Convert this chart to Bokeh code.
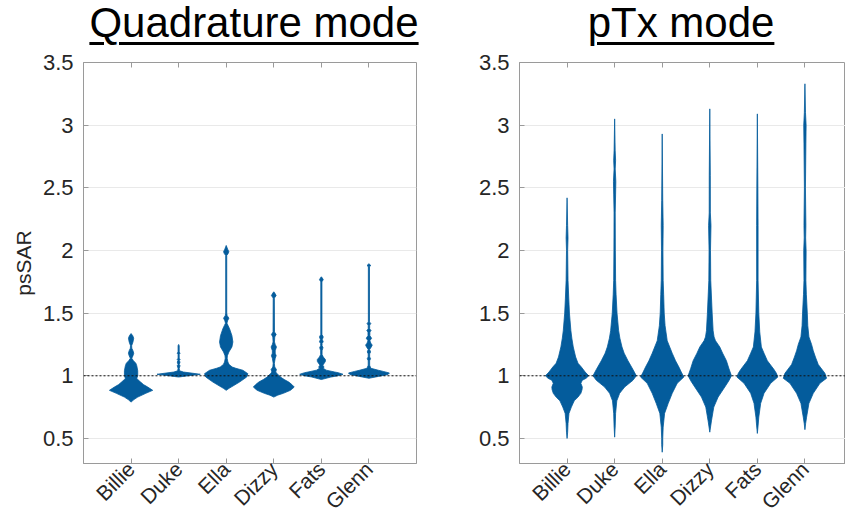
import math
from bokeh.plotting import figure
from bokeh.models import (ColumnDataSource, FixedTicker, LinearAxis, Span, Div,
                          NumeralTickFormatter)
from bokeh.layouts import row, column
from bokeh.embed import file_html
from bokeh.resources import INLINE

# ---------------- data ----------------
names = ["Billie", "Duke", "Ella", "Dizzy", "Fats", "Glenn"]
titles = ["Quadrature mode", "pTx mode"]
y_ticks = [0.5, 1, 1.5, 2, 2.5, 3, 3.5]
y_label = "psSAR"
reference_level = 1.0

# violin outlines: (psSAR value, half width in category units)
quad_billie = [(0.79, 0), (0.81, 0.06), (0.83, 0.14), (0.86, 0.31), (0.884, 0.455), (0.91, 0.35),
               (0.93, 0.26), (0.95, 0.2), (0.97, 0.14), (0.98, 0.12), (1.0, 0.14), (1.04, 0.14),
               (1.08, 0.12), (1.10, 0.10), (1.12, 0.05), (1.14, 0.015), (1.16, 0.04), (1.18, 0.056),
               (1.20, 0.04), (1.22, 0.015), (1.24, 0.012), (1.27, 0.04), (1.30, 0.055), (1.32, 0.035),
               (1.337, 0)]
quad_duke = [(0.99, 0), (1.0, 0.2), (1.012, 0.455), (1.02, 0.3), (1.03, 0.1), (1.04, 0.02),
             (1.06, 0.012), (1.08, 0.03), (1.09, 0.012), (1.11, 0.03), (1.12, 0.012), (1.13, 0.03),
             (1.14, 0.012), (1.17, 0.012), (1.18, 0.03), (1.19, 0.012), (1.24, 0.012), (1.25, 0)]
quad_ella = [(0.884, 0), (0.90, 0.06), (0.91, 0.105), (0.95, 0.28), (0.99, 0.43), (1.017, 0.455),
             (1.044, 0.35), (1.06, 0.2), (1.07, 0.126), (1.09, 0.06), (1.11, 0.035), (1.14, 0.02),
             (1.16, 0.025), (1.19, 0.056), (1.23, 0.12), (1.27, 0.14), (1.32, 0.12), (1.376, 0.07),
             (1.40, 0.04), (1.42, 0.015), (1.44, 0.03), (1.46, 0.056), (1.48, 0.02), (1.50, 0.01),
             (1.96, 0.01), (1.975, 0.04), (1.99, 0.056), (2.01, 0.03), (2.04, 0)]
quad_dizzy = [(0.83, 0), (0.845, 0.08), (0.86, 0.2), (0.884, 0.35), (0.91, 0.43), (0.93, 0.38),
              (0.95, 0.315), (0.97, 0.22), (0.99, 0.14), (1.017, 0.07), (1.03, 0.04), (1.05, 0.056),
              (1.07, 0.02), (1.10, 0.012), (1.14, 0.03), (1.16, 0.05), (1.18, 0.03), (1.20, 0.03),
              (1.23, 0.056), (1.25, 0.03), (1.27, 0.015), (1.31, 0.02), (1.33, 0.05), (1.35, 0.015),
              (1.62, 0.012), (1.64, 0.05), (1.66, 0.02), (1.67, 0)]
quad_fats = [(0.97, 0), (0.99, 0.2), (1.0, 0.35), (1.012, 0.455), (1.025, 0.35), (1.03, 0.28),
             (1.045, 0.1), (1.06, 0.04), (1.07, 0.056), (1.085, 0.03), (1.10, 0.06), (1.115, 0.085),
             (1.13, 0.085), (1.15, 0.04), (1.17, 0.015), (1.20, 0.015), (1.225, 0.035), (1.24, 0.015),
             (1.26, 0.015), (1.27, 0.04), (1.29, 0.02), (1.31, 0.04), (1.33, 0.012), (1.75, 0.012),
             (1.767, 0.04), (1.78, 0.02), (1.79, 0)]
quad_glenn = [(0.98, 0), (0.995, 0.2), (1.01, 0.40), (1.022, 0.43), (1.035, 0.3), (1.044, 0.2),
              (1.06, 0.04), (1.084, 0.015), (1.12, 0.015), (1.137, 0.035), (1.15, 0.015), (1.175, 0.015),
              (1.19, 0.035), (1.21, 0.015), (1.23, 0.05), (1.245, 0.07), (1.26, 0.04), (1.28, 0.02),
              (1.30, 0.056), (1.32, 0.02), (1.35, 0.02), (1.36, 0.045), (1.375, 0.015), (1.405, 0.015),
              (1.416, 0.04), (1.43, 0.012), (1.87, 0.012), (1.88, 0.04), (1.895, 0)]

ptx_billie = [(0.50, 0), (0.55, 0.012), (0.62, 0.02), (0.70, 0.04), (0.75, 0.09), (0.80, 0.15),
              (0.83, 0.23), (0.86, 0.29), (0.89, 0.315), (0.91, 0.32), (0.94, 0.29), (0.964, 0.32),
              (0.98, 0.40), (1.0, 0.455), (1.03, 0.38), (1.07, 0.30), (1.10, 0.23), (1.15, 0.18),
              (1.23, 0.13), (1.30, 0.10), (1.36, 0.08), (1.50, 0.05), (1.62, 0.035), (1.76, 0.02),
              (2.0, 0.012), (2.1, 0.02), (2.2, 0.012), (2.42, 0)]
ptx_duke = [(0.51, 0), (0.6, 0.012), (0.70, 0.02), (0.80, 0.045), (0.86, 0.105), (0.91, 0.21),
            (0.964, 0.385), (1.0, 0.455), (1.05, 0.385), (1.12, 0.28), (1.18, 0.2), (1.23, 0.154),
            (1.30, 0.11), (1.36, 0.084), (1.50, 0.05), (1.65, 0.03), (1.76, 0.02), (2.0, 0.015),
            (2.3, 0.012), (2.45, 0.02), (2.55, 0.025), (2.65, 0.012), (2.72, 0.02), (2.8, 0.01),
            (3.05, 0)]
ptx_ella = [(0.39, 0), (0.45, 0.01), (0.50, 0.01), (0.59, 0.02), (0.70, 0.05), (0.78, 0.126),
            (0.86, 0.21), (0.94, 0.315), (0.99, 0.455), (1.03, 0.40), (1.07, 0.35), (1.12, 0.28),
            (1.18, 0.21), (1.28, 0.105), (1.40, 0.06), (1.50, 0.042), (1.65, 0.03), (1.76, 0.02),
            (2.0, 0.015), (2.2, 0.02), (2.4, 0.01), (2.93, 0)]
ptx_dizzy = [(0.55, 0), (0.64, 0.035), (0.75, 0.084), (0.83, 0.175), (0.91, 0.315), (0.96, 0.40),
             (1.0, 0.455), (1.06, 0.40), (1.12, 0.35), (1.18, 0.27), (1.23, 0.21), (1.28, 0.12),
             (1.31, 0.09), (1.36, 0.07), (1.50, 0.05), (1.76, 0.02), (2.0, 0.015), (2.2, 0.025),
             (2.3, 0.012), (2.6, 0.01), (3.13, 0)]
ptx_fats = [(0.54, 0), (0.60, 0.015), (0.67, 0.03), (0.78, 0.07), (0.86, 0.14), (0.94, 0.28),
            (0.99, 0.43), (1.02, 0.40), (1.05, 0.35), (1.12, 0.21), (1.18, 0.14), (1.23, 0.084),
            (1.35, 0.05), (1.50, 0.03), (1.76, 0.015), (2.2, 0.015), (2.5, 0.01), (3.09, 0)]
ptx_glenn = [(0.57, 0), (0.62, 0.015), (0.67, 0.035), (0.78, 0.084), (0.86, 0.175), (0.94, 0.315),
             (0.98, 0.455), (1.02, 0.42), (1.09, 0.28), (1.15, 0.22), (1.20, 0.175), (1.25, 0.14),
             (1.31, 0.084), (1.40, 0.06), (1.50, 0.05), (1.65, 0.03), (1.76, 0.02), (2.0, 0.025),
             (2.1, 0.015), (2.2, 0.02), (2.5, 0.01), (2.85, 0.02), (3.0, 0.025), (3.1, 0.012),
             (3.33, 0)]

quad_violins = [quad_billie, quad_duke, quad_ella, quad_dizzy, quad_fats, quad_glenn]
ptx_violins = [ptx_billie, ptx_duke, ptx_ella, ptx_dizzy, ptx_fats, ptx_glenn]

# ---------------- styling ----------------
BLUE = "#045c9c"
FONT = "Liberation Sans"
AXIS_GRAY = "#9a9a9a"
LABEL_COLOR = "#262626"
MIN_HALF = 0.011


def violin_source(violins):
    xs, ys = [], []
    for i, prof in enumerate(violins):
        pos = i + 1
        vals = [v for v, _ in prof]
        hws = [max(w, MIN_HALF) if 0 < k < len(prof) - 1 else w for k, (_, w) in enumerate(prof)]
        right_x = [pos + w for w in hws]
        left_x = [pos - w for w in hws][::-1]
        xs.append(right_x + left_x)
        ys.append(vals + vals[::-1])
    return ColumnDataSource(dict(xs=xs, ys=ys))


def make_panel(violins, x_end, width, border_left, border_right, show_ylabel):
    p = figure(width=width, height=478, x_range=(0, x_end), y_range=(0.3, 3.5),
               output_backend="svg", toolbar_location=None,
               min_border_left=border_left, min_border_right=border_right,
               min_border_top=12, min_border_bottom=65)
    p.background_fill_color = "white"
    p.border_fill_color = "white"
    p.outline_line_color = AXIS_GRAY
    p.outline_line_width = 1

    p.patches("xs", "ys", source=violin_source(violins), fill_color=BLUE,
              line_color=BLUE, line_width=0.8)

    p.add_layout(Span(location=reference_level, dimension="width", line_color="#111111",
                      line_dash="2 2", line_width=1))

    # x axis
    xa = p.xaxis[0]
    xa.ticker = FixedTicker(ticks=list(range(1, len(names) + 1)))
    xa.major_label_overrides = {i + 1: n for i, n in enumerate(names)}
    xa.major_label_orientation = math.pi / 4
    xa.major_label_text_font = FONT
    xa.major_label_text_font_size = "21px"
    xa.major_label_text_color = LABEL_COLOR
    xa.major_label_standoff = 2
    xa.major_tick_in = 5
    xa.major_tick_out = 0
    xa.minor_tick_line_color = None
    xa.axis_line_color = AXIS_GRAY
    xa.major_tick_line_color = AXIS_GRAY

    # top ticks (box), no labels
    top = LinearAxis(ticker=FixedTicker(ticks=list(range(1, len(names) + 1))),
                     major_label_text_font_size="1px", major_label_text_color=None,
                     major_label_standoff=0,
                     major_tick_in=5, major_tick_out=0, minor_tick_line_color=None,
                     axis_line_color=None, major_tick_line_color=AXIS_GRAY)
    p.add_layout(top, "above")

    # y axis
    ya = p.yaxis[0]
    ya.ticker = FixedTicker(ticks=y_ticks)
    ya.formatter = NumeralTickFormatter(format="0.[0]")
    ya.major_label_text_font = FONT
    ya.major_label_text_font_size = "22px"
    ya.major_label_text_color = LABEL_COLOR
    ya.major_label_standoff = 10
    ya.major_tick_in = 5
    ya.major_tick_out = 0
    ya.minor_tick_line_color = None
    ya.axis_line_color = AXIS_GRAY
    ya.major_tick_line_color = AXIS_GRAY
    if show_ylabel:
        ya.axis_label = y_label
        ya.axis_label_text_font = FONT
        ya.axis_label_text_font_size = "21px"
        ya.axis_label_text_font_style = "normal"
        ya.axis_label_text_color = LABEL_COLOR
        ya.axis_label_standoff = 5

    p.xgrid.visible = False
    p.ygrid.ticker = FixedTicker(ticks=y_ticks)
    p.ygrid.grid_line_color = "#e9e9e9"
    p.ygrid.grid_line_width = 1
    return p


def make_title(text, width, margin_left):
    return Div(text=(f'<div style="width:350px;margin-left:{margin_left}px;text-align:center;'
                     f'font-family:\'{FONT}\';font-size:42px;line-height:42px;color:#000;'
                     f'text-decoration:underline;text-decoration-thickness:3px;'
                     f'text-underline-offset:5px;padding-top:2px;white-space:nowrap;">{text}</div>'),
               width=width, height=50, margin=(0, 0, 0, 0))


p1 = make_panel(quad_violins, 7, 426, 83, 10, True)
p2 = make_panel(ptx_violins, 326 / (333 / 7), 419, 93, 0, False)
p1.margin = (0, 0, 0, 0)
p2.margin = (0, 0, 0, 0)

t1 = make_title(titles[0], 426, 79)
t2 = make_title(titles[1], 419, 80)

layout = row(column(t1, p1, spacing=0), column(t2, p2, spacing=0), spacing=0)

open("out.html", "w").write(file_html(layout, INLINE))
